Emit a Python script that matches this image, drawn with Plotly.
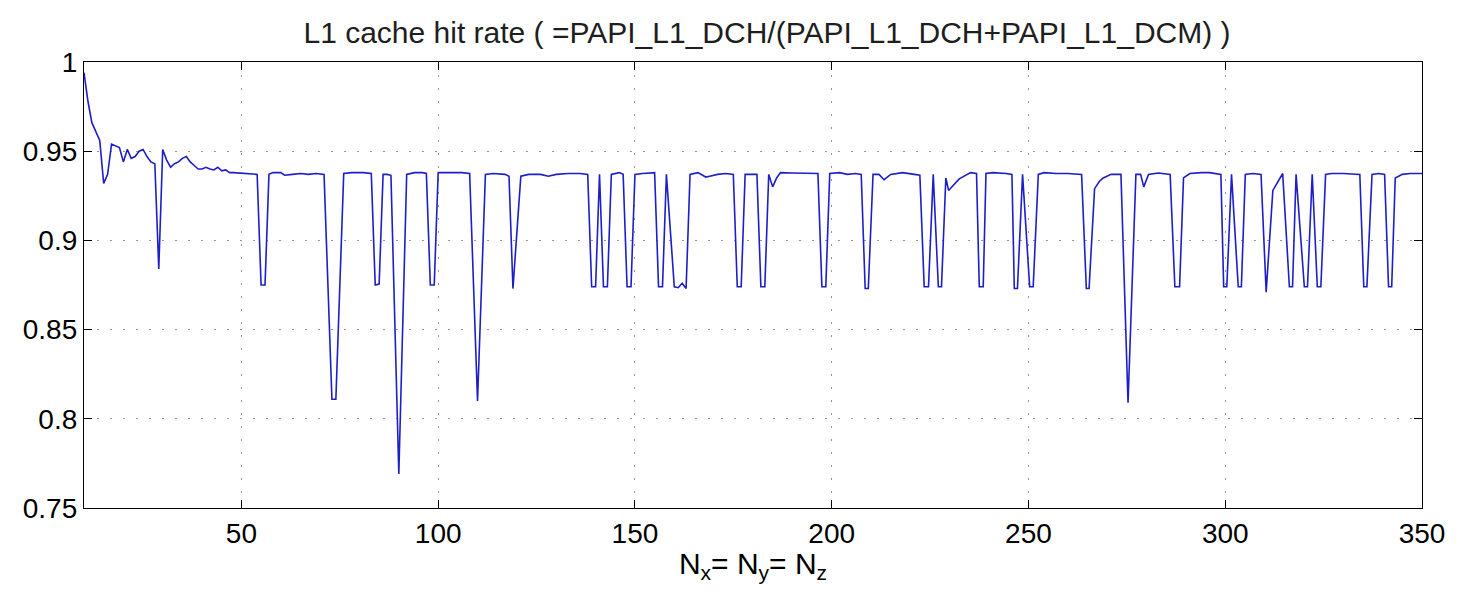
import plotly.graph_objects as go

# Problem size N (Nx = Ny = Nz) -- vertices
n_values = [
    10, 11, 12, 13, 14, 15, 16, 17, 18, 19, 20, 21, 22, 23, 24, 25, 26, 27, 28, 29,
    30, 31, 32, 33, 34, 35, 36, 37, 38, 39, 40, 41, 42, 43, 44, 45, 46, 47, 48, 49,
    50, 51, 52, 53, 54, 55, 56, 57, 58, 60, 61, 63, 65, 67, 69, 71, 73, 74, 76, 78,
    81, 83, 84, 85, 86, 87, 88, 90, 92, 94, 96, 97, 98, 99, 100, 103, 106, 108, 110, 112,
    114, 117, 118, 119, 121, 123, 126, 128, 130, 133, 136, 138, 139, 140, 141, 142, 143, 144, 146, 147,
    148, 149, 150, 152, 155, 156, 157, 158, 160, 161, 162, 163, 164, 166, 168, 169, 171, 173, 175, 176,
    177, 178, 181, 182, 183, 184, 185, 186, 187, 190, 194, 196.5, 197.5, 198.5, 199.5, 202, 204, 206, 207.5, 208.5,
    209.3, 210.5, 212, 213.3, 215, 218, 221, 222.4, 223.5, 224.6, 225.8, 227.1, 227.9, 229, 229.7, 232.4, 235.3, 236.8, 237.5, 238.5,
    239.2, 241, 244.3, 245.8, 246.4, 247.2, 248.5, 250.3, 251.2, 252.5, 254, 257, 260, 263.5, 264.7, 265.4, 266.8, 268, 269, 271,
    273.5, 275.3, 277.3, 278.5, 279.3, 280.5, 283, 286, 287.2, 288.4, 289.4, 291, 294, 296, 298.9, 299.6, 300.4, 301.6, 303.3, 304.1,
    305.1, 307, 309.1, 310.4, 312.1, 313.5, 314.6, 316.3, 317.1, 318, 320.1, 320.9, 322.1, 323.4, 324.3, 325.5, 327, 330, 334.2, 335.2,
    336, 337.3, 339, 340.5, 341.5, 342.3, 343.2, 345, 347, 350,
]

hit_rate = [
    0.994, 0.978, 0.966, 0.961, 0.956, 0.932, 0.937, 0.954, 0.953, 0.952, 0.944, 0.951, 0.946, 0.947, 0.950, 0.951, 0.947, 0.944, 0.943, 0.884,
    0.951, 0.945, 0.941, 0.943, 0.944, 0.946, 0.947, 0.944, 0.942, 0.940, 0.940, 0.941, 0.940, 0.9395, 0.941, 0.939, 0.9395, 0.938, 0.938, 0.9378,
    0.9375, 0.9375, 0.9375, 0.9372, 0.937, 0.875, 0.875, 0.937, 0.938, 0.938, 0.9365, 0.937, 0.9375, 0.937, 0.9375, 0.937, 0.811, 0.811, 0.9375, 0.938,
    0.938, 0.9375, 0.875, 0.8755, 0.937, 0.937, 0.9365, 0.769, 0.937, 0.938, 0.938, 0.9375, 0.875, 0.875, 0.938, 0.938, 0.938, 0.9375, 0.810, 0.937,
    0.9375, 0.937, 0.936, 0.873, 0.936, 0.937, 0.937, 0.936, 0.937, 0.9375, 0.9375, 0.937, 0.874, 0.874, 0.937, 0.874, 0.874, 0.937, 0.938, 0.937,
    0.874, 0.874, 0.937, 0.9375, 0.938, 0.874, 0.874, 0.937, 0.874, 0.8735, 0.876, 0.873, 0.937, 0.938, 0.9355, 0.936, 0.937, 0.9375, 0.937, 0.874,
    0.874, 0.937, 0.937, 0.874, 0.874, 0.937, 0.930, 0.935, 0.938, 0.9378, 0.9375, 0.9375, 0.874, 0.874, 0.9375, 0.938, 0.937, 0.9375, 0.937, 0.873,
    0.873, 0.937, 0.937, 0.934, 0.937, 0.938, 0.937, 0.9365, 0.874, 0.874, 0.937, 0.874, 0.874, 0.935, 0.928, 0.9345, 0.938, 0.9375, 0.874, 0.874,
    0.9375, 0.938, 0.9375, 0.937, 0.873, 0.873, 0.937, 0.874, 0.874, 0.937, 0.938, 0.9375, 0.9375, 0.937, 0.873, 0.873, 0.929, 0.933, 0.935, 0.937,
    0.937, 0.809, 0.937, 0.937, 0.930, 0.937, 0.9378, 0.937, 0.874, 0.874, 0.935, 0.9375, 0.938, 0.938, 0.937, 0.874, 0.874, 0.937, 0.874, 0.874,
    0.937, 0.9375, 0.937, 0.871, 0.928, 0.933, 0.9375, 0.874, 0.874, 0.937, 0.874, 0.874, 0.937, 0.874, 0.874, 0.937, 0.9375, 0.9375, 0.937, 0.874,
    0.874, 0.937, 0.9375, 0.937, 0.874, 0.874, 0.935, 0.937, 0.9375, 0.9375,
]

x_ticks = [50, 100, 150, 200, 250, 300, 350]
y_ticks = [0.75, 0.8, 0.85, 0.9, 0.95, 1]
y_tick_text = ["0.75", "0.8", "0.85", "0.9", "0.95", "1"]

FONT = "Liberation Sans, Arial, sans-serif"

fig = go.Figure()
fig.add_trace(go.Scatter(
    x=n_values, y=hit_rate, mode="lines",
    line=dict(color="rgb(30,30,200)", width=1.6),
    showlegend=False, hoverinfo="x+y",
))

axis_common = dict(
    showline=True, linecolor="black", linewidth=1.3, mirror="ticks",
    ticks="inside", ticklen=8, tickcolor="black", tickwidth=1,
    showgrid=True, gridcolor="rgb(150,150,150)", griddash="2px,11px", gridwidth=1,
    zeroline=False, tickfont=dict(family=FONT, size=28, color="black"),
)

fig.update_xaxes(range=[10, 350], tickvals=x_ticks, ticktext=[str(v) for v in x_ticks],
                 title=dict(text="N<sub>x</sub>= N<sub>y</sub>= N<sub>z</sub>",
                            font=dict(family=FONT, size=30, color="black"), standoff=2),
                 **axis_common)
fig.update_yaxes(range=[0.75, 1], tickvals=y_ticks, ticktext=y_tick_text, **axis_common)

W, H = 1449, 576
fig.update_layout(
    width=W, height=H,
    margin=dict(l=76, r=25, t=54, b=73),
    paper_bgcolor="white", plot_bgcolor="white",
    title=dict(text="L1 cache hit rate ( =PAPI_L1_DCH/(PAPI_L1_DCH+PAPI_L1_DCM) )",
               x=(767 - 8) / W, xanchor="center", y=1 - (32 - 8) / H, yanchor="middle",
               font=dict(family=FONT, size=30, color="rgb(30,30,30)")),
)

fig.write_html("out.html")
